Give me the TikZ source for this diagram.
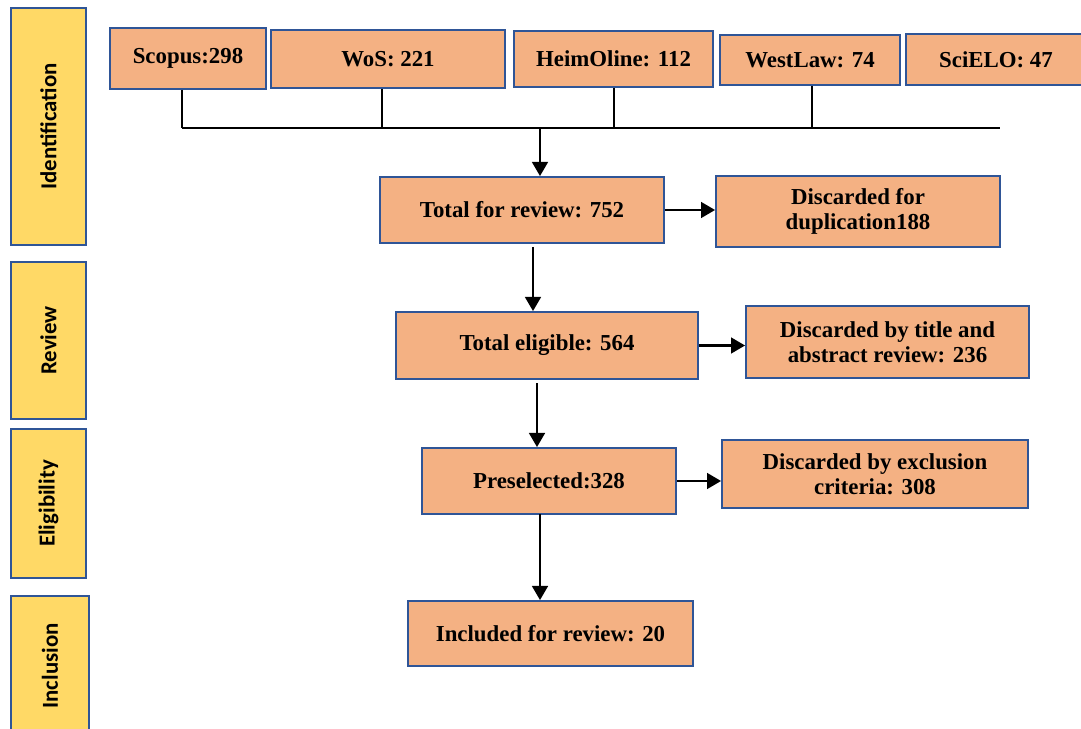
\documentclass[tikz,border=0pt]{standalone}
\usepackage{fontspec}
\setmainfont{Liberation Serif}
\newfontfamily\sidefont{Carlito}
\usetikzlibrary{arrows.meta}
\definecolor{boxfill}{HTML}{F4B183}
\definecolor{boxline}{HTML}{2F5597}
\definecolor{phasefill}{HTML}{FFD966}
\begin{document}
\begin{tikzpicture}[x=0.02cm,y=-0.02cm,
  stage/.style={draw=boxline,line width=1.1pt,fill=boxfill,align=center,font=\fontsize{13}{14.5}\selectfont\bfseries,inner sep=2pt},
  phase/.style={draw=boxline,line width=1.1pt,fill=phasefill,minimum height=1.5cm,font=\sidefont\fontsize{13}{15}\selectfont\bfseries,rotate=90},
  flow/.style={line width=1.2pt,-{Triangle[length=8pt,width=9pt]}}]
\useasboundingbox (0,0) rectangle (1081,729);
% phases
\node[phase,minimum width=4.74cm] (ident) at (48.5,126.5) {Identification};
\node[phase,minimum width=3.14cm] (rev) at (48.5,340.5) {Review};
\node[phase,minimum width=2.98cm] (elig) at (48.5,503.5) {Eligibility};
\node[phase,minimum width=2.8cm,minimum height=1.56cm] (incl) at (50,666) {Inclusion};
% sources
\node[stage,minimum width=3.12cm,minimum height=1.22cm] (scopus) at (188,58.5) {Scopus:298};
\node[stage,minimum width=4.68cm,minimum height=1.16cm] (wos) at (388,59) {WoS: 221};
\node[stage,minimum width=3.98cm,minimum height=1.12cm] (heim) at (613.5,59) {HeimOline: 112};
\node[stage,minimum width=3.6cm,minimum height=1.0cm] (west) at (810,60) {WestLaw: 74};
\node[stage,minimum width=3.6cm,minimum height=1.02cm] (scielo) at (996,59.5) {SciELO: 47};
\coordinate (bus) at (540,128);
\coordinate (busL) at (182,128);
\coordinate (busR) at (1000,128);
\draw[line width=0.8pt] (busL) -- (busR);
\draw[line width=0.8pt] (scopus.south -| busL) -- (busL);
\draw[line width=0.8pt] (wos.south -| 382,0) -- (382,128);
\draw[line width=0.8pt] (heim.south -| 614,0) -- (614,128);
\draw[line width=0.8pt] (west.south -| 812,0) -- (812,128);
% flow
\node[stage,minimum width=5.68cm,minimum height=1.32cm] (total) at (522,210) {Total for review: 752};
\node[stage,minimum width=5.68cm,minimum height=1.42cm] (dup) at (858,211.5) {Discarded for\\duplication188};
\node[stage,minimum width=6.04cm,minimum height=1.34cm] (elig564) at (547,345.5) {Total eligible: 564};
\node[stage,minimum width=5.66cm,minimum height=1.44cm] (title) at (887.5,342) {Discarded by title and\\abstract review: 236};
\node[stage,minimum width=5.08cm,minimum height=1.32cm] (presel) at (549,481) {Preselected:328};
\node[stage,minimum width=6.12cm,minimum height=1.36cm] (excl) at (875,474) {Discarded by exclusion\\criteria: 308};
\node[stage,minimum width=5.7cm,minimum height=1.3cm] (incl20) at (550.5,633.5) {Included for review: 20};
\draw[flow] (bus) -- (total.north -| bus);
\draw[flow] (533,247) -- (elig564.north -| 533,0);
\draw[flow] (537,383) -- (presel.north -| 537,0);
\draw[flow] (540,514) -- (incl20.north -| 540,0);
\draw[flow] (total.east) -- (dup.west |- total.east);
\draw[flow] (elig564.east) -- (title.west |- elig564.east);
\draw[flow] (presel.east) -- (excl.west |- presel.east);
\end{tikzpicture}
\end{document}
